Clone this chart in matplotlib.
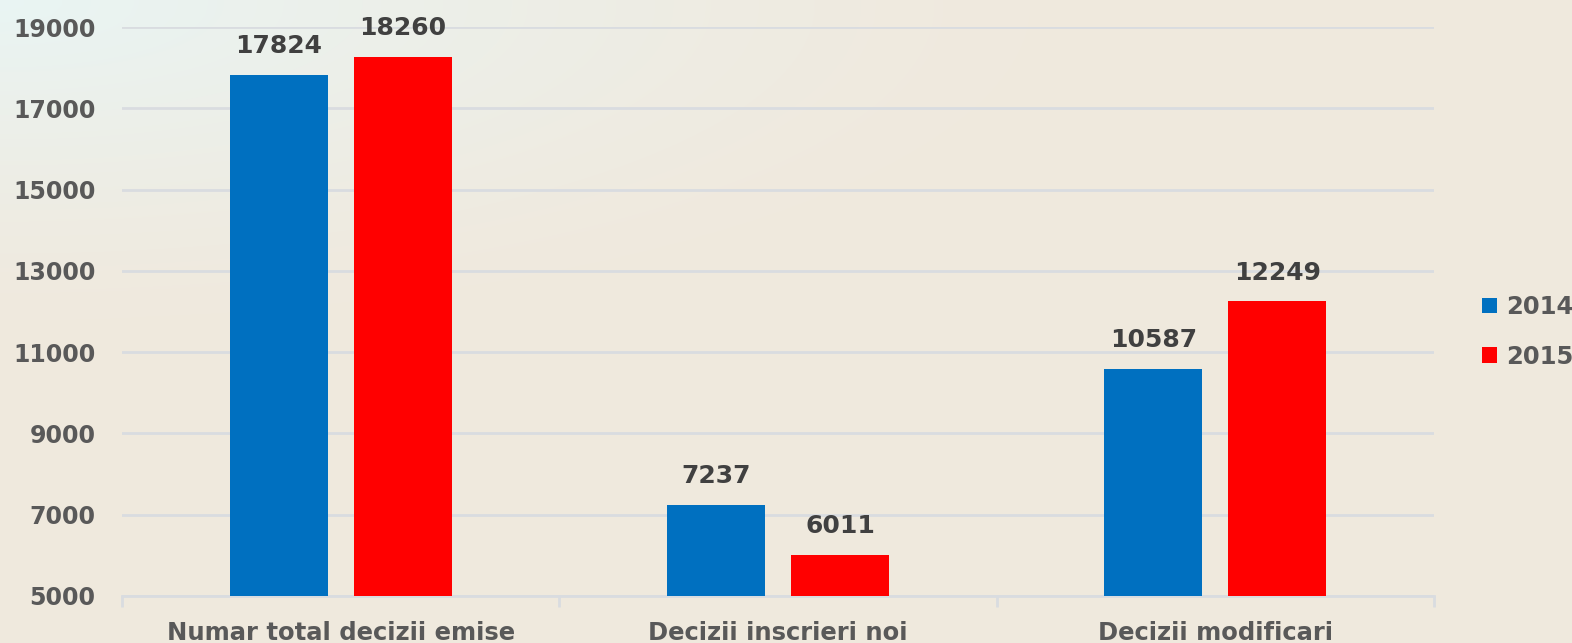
import numpy as np
import matplotlib.pyplot as plt

categories = ["Numar total decizii emise", "Decizii inscrieri noi", "Decizii modificari"]
series_names = ["2014", "2015"]
values_2014 = [17824, 7237, 10587]
values_2015 = [18260, 6011, 12249]
y_ticks = [5000, 7000, 9000, 11000, 13000, 15000, 17000, 19000]

colors = ["#0070C0", "#FF0000"]
text_color = "#595959"
grid_color = "#D9DCE0"

fig = plt.figure(figsize=(15.72, 6.43), dpi=100)

# soft background gradient (cream with a pale blue corner top-left)
bg = fig.add_axes([0, 0, 1, 1], zorder=-10)
h, w = 64, 160
yy, xx = np.mgrid[0:h, 0:w]
cream = np.array([0.940, 0.915, 0.870])
blue = np.array([0.915, 0.960, 0.955])
t = np.clip(1 - np.hypot(xx / w * 1.5, yy / h * 2.0), 0, 1) ** 1.3
img = cream[None, None, :] * (1 - t[..., None]) + blue[None, None, :] * t[..., None]
bg.imshow(img, aspect="auto", extent=[0, 1, 0, 1], interpolation="bilinear")
bg.set_xlim(0, 1)
bg.set_ylim(0, 1)
bg.axis("off")

ax = fig.add_axes([0.0776, 0.0731, 0.9122 - 0.0776, 0.958 - 0.0731])
ax.patch.set_alpha(0)

x = np.arange(len(categories))
width = 0.224
offset = 0.142

bars1 = ax.bar(x - offset, values_2014, width, color=colors[0], label=series_names[0], zorder=3)
bars2 = ax.bar(x + offset, values_2015, width, color=colors[1], label=series_names[1], zorder=3)

for bars in (bars1, bars2):
    for b in bars:
        ax.annotate(f"{int(b.get_height())}", (b.get_x() + b.get_width() / 2, b.get_height()),
                    xytext=(0, 12), textcoords="offset points", ha="center", va="bottom",
                    fontsize=18, fontweight="bold", color="#404040")

ax.set_xlim(-0.5, len(categories) - 0.5)
ax.set_ylim(5000, 19000)
ax.set_yticks(y_ticks)
ax.set_xticks(x)
ax.set_xticklabels(categories)

# category separators on the x axis
ax.set_xticks(np.arange(len(categories) + 1) - 0.5, minor=True)
ax.tick_params(axis="x", which="major", length=0, pad=18, labelsize=17.5, colors=text_color)
ax.tick_params(axis="x", which="minor", length=8, width=2, color=grid_color)
ax.tick_params(axis="y", length=0, pad=19, labelsize=17, colors=text_color)
for lbl in ax.get_xticklabels() + ax.get_yticklabels():
    lbl.set_fontweight("bold")

ax.grid(axis="y", color=grid_color, linewidth=2, zorder=0)
for side in ["top", "right", "left"]:
    ax.spines[side].set_visible(False)
ax.spines["bottom"].set_color(grid_color)
ax.spines["bottom"].set_linewidth(2)

leg = ax.legend(loc="center left", bbox_to_anchor=(1.02, 0.464), frameon=False,
                handlelength=0.6, handleheight=0.6, handletextpad=0.4,
                labelspacing=1.05, prop={"size": 17.5, "weight": "bold"})
for t_ in leg.get_texts():
    t_.set_color(text_color)

fig.savefig("out.png", dpi=100)
